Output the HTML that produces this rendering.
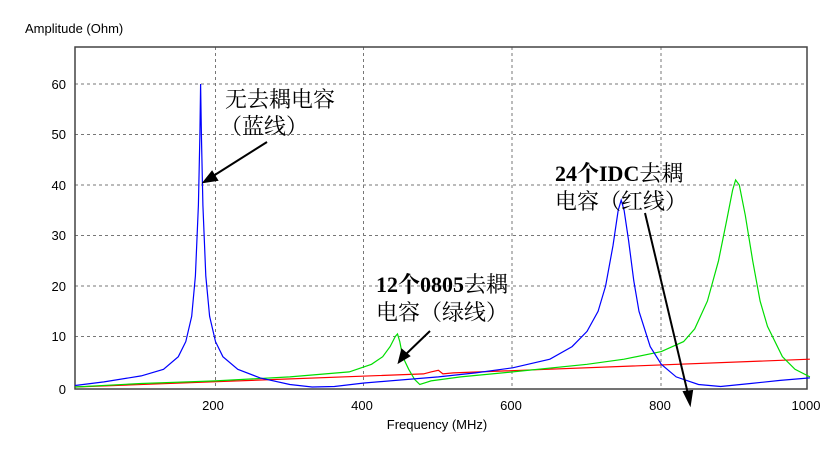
<!DOCTYPE html>
<html><head><meta charset="utf-8"><style>
html,body{margin:0;padding:0;background:#fff;}
svg{display:block}
.t{font-family:"Liberation Sans",Arial,sans-serif;font-size:13px;fill:#000}
.a{font-family:"Liberation Serif","Noto Serif CJK SC",serif;font-size:22px;fill:#000;font-weight:bold}
</style></head><body>
<svg id="s" width="834" height="450" viewBox="0 0 834 450" xmlns="http://www.w3.org/2000/svg">
<rect width="834" height="450" fill="#fff"/>
<g stroke="#777" stroke-width="1" stroke-dasharray="3,3" fill="none">
<line x1="75" y1="84" x2="807" y2="84"/><line x1="75" y1="134.5" x2="807" y2="134.5"/>
<line x1="75" y1="185" x2="807" y2="185"/><line x1="75" y1="235.5" x2="807" y2="235.5"/>
<line x1="75" y1="286" x2="807" y2="286"/><line x1="75" y1="336.5" x2="807" y2="336.5"/>
<line x1="215.5" y1="47" x2="215.5" y2="389"/><line x1="363.5" y1="47" x2="363.5" y2="389"/>
<line x1="512" y1="47" x2="512" y2="389"/><line x1="661" y1="47" x2="661" y2="389"/>
</g>
<rect x="75" y="47" width="732" height="342" fill="none" stroke="#444" stroke-width="1.5"/>
<g id="curves" fill="none" stroke-width="1.2"></g>
<text class="t" x="25" y="33">Amplitude (Ohm)</text>
<g class="t" text-anchor="end">
<text x="66" y="89">60</text><text x="66" y="139">50</text><text x="66" y="190">40</text>
<text x="66" y="240">30</text><text x="66" y="291">20</text><text x="66" y="341">10</text><text x="66" y="394">0</text>
</g>
<g class="t" text-anchor="middle">
<text x="213" y="410">200</text><text x="362" y="410">400</text><text x="511" y="410">600</text>
<text x="660" y="410">800</text><text x="806" y="410">1000</text>
<text x="437" y="429">Frequency (MHz)</text>
</g>
<text class="a" x="225" y="107" style="font-weight:normal">无去耦电容</text>
<text class="a" x="220" y="134" style="font-weight:normal">（蓝线）</text>
<text class="a" x="376" y="292">12个0805<tspan style="font-weight:normal">去耦</tspan></text>
<text class="a" x="376" y="320" style="font-weight:normal">电容（绿线）</text>
<text class="a" x="555" y="181">24个IDC<tspan style="font-weight:normal">去耦</tspan></text>
<text class="a" x="555" y="209" style="font-weight:normal">电容（红线）</text>
<g stroke="#000" stroke-width="2" fill="#000">
<line x1="267" y1="142" x2="210" y2="178"/><polygon points="204,182 212,172 217,180"/>
<line x1="430" y1="331" x2="404" y2="356"/><polygon points="399,362 402,350 409,356"/>
<line x1="645" y1="213" x2="688" y2="394"/><polygon points="690,404 684,392 692,391"/>
</g>
</svg>
<script>
function X(f){return 215.5+(f-200)*0.743;}
function Y(v){return 387-v*5.05;}
function path(p,c){var d='';for(var i=0;i<p.length;i+=2){d+=(i?'L':'M')+X(p[i]).toFixed(1)+' '+Y(p[i+1]).toFixed(1);}
var e=document.createElementNS('http://www.w3.org/2000/svg','path');e.setAttribute('d',d);e.setAttribute('stroke',c);document.getElementById('curves').appendChild(e);}
var red=[11,0,480,2.6,490,3.0,500,3.3,506,2.6,520,2.8,1000,5.5];
path(red,'#ff0000');
path([11,0,100,0.7,200,1.2,300,2,380,3,410,4.5,425,6,435,8,442,10,445,10.5,448,9,452,6,460,3.5,468,1.5,475,0.5,490,1.2,530,2,600,3,700,4.5,750,5.5,800,7,830,9,845,11.5,862,17,877,25,888,33,896,39,900,41,905,40,913,34,923,25,933,17,943,12,963,6,980,3.5,1000,2],'#00dd00');
path([11,0.3,50,1,100,2.2,130,3.5,150,6,160,9,168,14,173,22,177,36,179,50,180,60,181,50,183,36,187,22,192,14,200,9,210,6,230,3.5,260,1.8,300,0.5,330,0,360,0.1,400,0.8,500,2,550,2.8,600,3.8,650,5.5,680,8,700,11,715,15,725,20,735,28,742,35,746,37,750,35,756,29,763,21,770,15,785,8,800,4.5,820,2,850,0.5,880,0.1,920,0.7,960,1.3,1000,1.8],'#0000ff');
</script>
</body></html>
